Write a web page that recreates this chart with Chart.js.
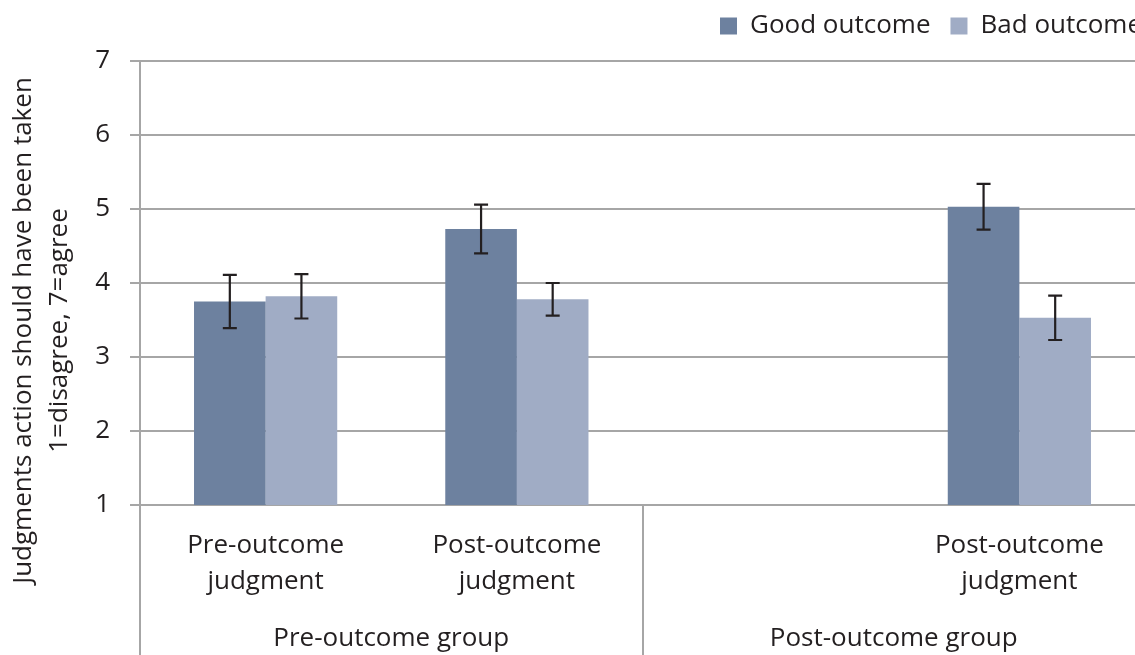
<!DOCTYPE html>
<html>
<head>
<meta charset="utf-8">
<script src="https://cdn.jsdelivr.net/npm/chart.js@4/dist/chart.umd.min.js"></script>
<style>
  html, body { margin: 0; padding: 0; overflow: hidden; background: #fff; }
  #wrap { position: relative; width: 1160px; height: 655px; }
</style>
</head>
<body>
<div id="wrap"><canvas id="c" width="1160" height="655"></canvas></div>
<script>
// Judgment categories (third slot intentionally empty: no pre-outcome judgment in the post-outcome group)
const categories = [['Pre-outcome', 'judgment'], ['Post-outcome', 'judgment'], '', ['Post-outcome', 'judgment']];
// Outer grouping of the categories: label, first index, last index
const groupNames = ['Pre-outcome group', 'Post-outcome group'];
const groupStart = [0, 2];
const groupEnd = [1, 3];

const seriesNames = ['Good outcome', 'Bad outcome'];
const goodMeans = [3.75, 4.73, null, 5.03];
const goodErrors = [0.36, 0.33, null, 0.31];
const badMeans = [3.82, 3.78, null, 3.53];
const badErrors = [0.30, 0.22, null, 0.30];

const yMin = 1;
const yMax = 7;
const yStep = 1;
const yTitle = ['Judgments action should have been taken', '1=disagree, 7=agree'];

const FONT = '"Open Sans", "Noto Sans", sans-serif';
const TEXT = '#231F20';
const GRID = '#A6A6A6';

Chart.defaults.font.family = FONT;
Chart.defaults.font.size = 26;
Chart.defaults.color = TEXT;

// Legend sits in the top-right corner, flush with the canvas edge
const legendPlacement = {
  id: 'legendPlacement',
  afterLayout(chart) {
    const l = chart.legend;
    if (!l) return;
    l.left += 17; l.right += 17;
    l.top -= 12; l.bottom -= 12;
  }
};

// Standard-error whiskers on every bar
const errorBars = {
  id: 'errorBars',
  afterDatasetsDraw(chart) {
    const ctx = chart.ctx;
    const y = chart.scales.y;
    const errs = [goodErrors, badErrors];
    ctx.save();
    ctx.strokeStyle = TEXT;
    ctx.lineWidth = 2.2;
    chart.data.datasets.forEach((ds, i) => {
      const meta = chart.getDatasetMeta(i);
      meta.data.forEach((bar, j) => {
        const v = ds.data[j];
        const e = errs[i][j];
        if (v == null || e == null) return;
        const x = bar.x;
        const top = y.getPixelForValue(v + e);
        const bot = y.getPixelForValue(v - e);
        ctx.beginPath();
        ctx.moveTo(x, top); ctx.lineTo(x, bot);
        ctx.moveTo(x - 7, top); ctx.lineTo(x + 7, top);
        ctx.moveTo(x - 7, bot); ctx.lineTo(x + 7, bot);
        ctx.stroke();
      });
    });
    ctx.restore();
  }
};

// Outer group labels, group dividers and the rotated two-line value-axis title
const axisDecor = {
  id: 'axisDecor',
  afterDraw(chart) {
    const ctx = chart.ctx;
    const x = chart.scales.x;
    const area = chart.chartArea;
    const H = chart.height;
    ctx.save();
    // dividers between outer groups
    ctx.strokeStyle = GRID;
    ctx.lineWidth = 2;
    const bounds = new Set();
    groupStart.forEach((s, g) => { bounds.add(s - 0.5); bounds.add(groupEnd[g] + 0.5); });
    bounds.forEach(b => {
      const px = Math.round(x.getPixelForValue(b));
      ctx.beginPath();
      ctx.moveTo(px, area.bottom);
      ctx.lineTo(px, H);
      ctx.stroke();
    });
    // group labels
    ctx.fillStyle = TEXT;
    ctx.font = '26px ' + FONT;
    ctx.textAlign = 'center';
    ctx.textBaseline = 'middle';
    groupNames.forEach((name, g) => {
      const cx = (x.getPixelForValue(groupStart[g] - 0.5) + x.getPixelForValue(groupEnd[g] + 0.5)) / 2;
      ctx.fillText(name, cx, 639);
    });
    // value-axis title
    const cy = H / 2 + 3;
    ctx.translate(0, cy);
    ctx.rotate(-Math.PI / 2);
    yTitle.forEach((line, i) => {
      ctx.fillText(line, 0, 24 + i * 36);
    });
    ctx.restore();
  }
};

new Chart(document.getElementById('c'), {
  type: 'bar',
  data: {
    labels: categories,
    datasets: [
      { label: seriesNames[0], data: goodMeans, backgroundColor: '#6D819F', borderWidth: 0 },
      { label: seriesNames[1], data: badMeans, backgroundColor: '#A0ACC5', borderWidth: 0 }
    ]
  },
  options: {
    responsive: false,
    animation: false,
    events: [],
    categoryPercentage: 0.57,
    barPercentage: 1,
    layout: { padding: { top: 5, right: 15, left: 0, bottom: 0 } },
    plugins: {
      legend: {
        position: 'top',
        align: 'end',
        labels: {
          boxWidth: 17,
          boxHeight: 17,
          padding: 20,
          color: TEXT,
          font: { size: 26, family: FONT }
        }
      },
      tooltip: { enabled: false }
    },
    scales: {
      x: {
        grid: { display: false, drawTicks: false },
        border: { display: true, color: GRID, width: 2 },
        ticks: {
          color: TEXT,
          font: { size: 26, family: FONT, lineHeight: 1.38 },
          padding: 23,
          maxRotation: 0,
          autoSkip: false
        },
        afterFit(scale) { scale.height = 150; }
      },
      y: {
        min: yMin,
        max: yMax,
        grid: { color: GRID, lineWidth: 2, drawTicks: true, tickLength: 10, tickColor: GRID },
        border: { display: true, color: GRID, width: 2 },
        ticks: {
          stepSize: yStep,
          color: TEXT,
          font: { size: 26, family: FONT },
          padding: 20
        },
        afterFit(scale) { scale.width = 140; }
      }
    }
  },
  plugins: [legendPlacement, errorBars, axisDecor]
});
</script>
</body>
</html>
